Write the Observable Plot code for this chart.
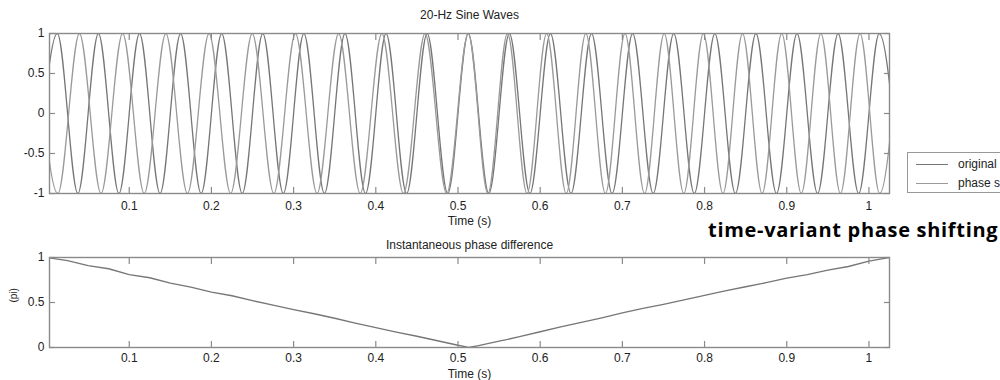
<!DOCTYPE html>
<html><head><meta charset="utf-8">
<script src="https://cdn.jsdelivr.net/npm/d3@7"></script>
<script src="https://cdn.jsdelivr.net/npm/@observablehq/plot@0.6"></script>
<style>
body{margin:0;background:#fff;}
#wrap{position:relative;width:1000px;height:380px;overflow:hidden;font-family:"Liberation Sans",Arial,sans-serif;background:#fff;}
#top,#bottom{position:absolute;left:0;}
#top{top:0;}
#bottom{top:228px;}
#legend{position:absolute;left:907px;top:152px;width:120px;height:39px;border:1px solid #999;background:#fff;font-size:12px;color:#222;}
#legend .row{position:absolute;left:0;height:14px;}
#legend .sw{position:absolute;left:8px;top:7px;width:32px;height:0;border-top:1px solid #666;}
#legend .lb{position:absolute;left:50px;top:0;line-height:14px;white-space:nowrap;}
#note{position:absolute;left:708px;top:220px;font-family:"Open Sans",sans-serif;font-weight:700;font-size:20px;letter-spacing:0.7px;line-height:20px;color:#000;white-space:nowrap;}
</style>
</head><body>
<div id="wrap"><div id="top"></div><div id="bottom"></div><div id="legend"></div><div id="note"></div></div>
<script>
// ---- texts
const sineTitle = "20-Hz Sine Waves";
const phaseTitle = "Instantaneous phase difference";
const xLabel = "Time (s)";
const phaseLabel = "(pi)";
const annotation = "time-variant phase shifting";
const seriesNames = ["original", "phase shifted"];
const seriesColors = ["#767676", "#9a9a9a"];

// ---- ticks
const xTicks = [0.1, 0.2, 0.3, 0.4, 0.5, 0.6, 0.7, 0.8, 0.9, 1];
const sineYTicks = [-1, -0.5, 0, 0.5, 1];
const phaseYTicks = [0, 0.5, 1];

// ---- original 20-Hz wave: extremum times (s) and values
const originalTimes = [-0.0125, 0.0125, 0.0375, 0.0625, 0.0875, 0.1125, 0.1375, 0.1625, 0.1875, 0.2125,
  0.2375, 0.2625, 0.2875, 0.3125, 0.3375, 0.3625, 0.3875, 0.4125, 0.4375, 0.4625, 0.4875, 0.5125,
  0.5375, 0.5625, 0.5875, 0.6125, 0.6375, 0.6625, 0.6875, 0.7125, 0.7375, 0.7625, 0.7875, 0.8125,
  0.8375, 0.8625, 0.8875, 0.9125, 0.9375, 0.9625, 0.9875, 1.0125, 1.0375];
const originalValues = [-1, 1, -1, 1, -1, 1, -1, 1, -1, 1, -1, 1, -1, 1, -1, 1, -1, 1, -1, 1, -1, 1,
  -1, 1, -1, 1, -1, 1, -1, 1, -1, 1, -1, 1, -1, 1, -1, 1, -1, 1, -1, 1, -1];

// ---- phase-shifted wave: extremum times (s) and values
const shiftedTimes = [-0.01314, 0.01314, 0.03942, 0.06570, 0.09198, 0.11826, 0.14455, 0.17083, 0.19711,
  0.22339, 0.24967, 0.27595, 0.30223, 0.32852, 0.35480, 0.38108, 0.40736, 0.43364, 0.45992, 0.48620,
  0.51250, 0.53636, 0.56019, 0.58402, 0.60786, 0.63169, 0.65552, 0.67936, 0.70319, 0.72702, 0.75086,
  0.77469, 0.79852, 0.82235, 0.84619, 0.87002, 0.89385, 0.91769, 0.94152, 0.96535, 0.98918, 1.01302, 1.03685];
const shiftedValues = [1, -1, 1, -1, 1, -1, 1, -1, 1, -1, 1, -1, 1, -1, 1, -1, 1, -1, 1, -1, 1,
  -1, 1, -1, 1, -1, 1, -1, 1, -1, 1, -1, 1, -1, 1, -1, 1, -1, 1, -1, 1, -1, 1];

// ---- instantaneous phase difference (units of pi)
const phaseTimes = [0, 0.025, 0.05, 0.075, 0.1, 0.125, 0.15, 0.175, 0.2, 0.225, 0.25, 0.275, 0.3, 0.325,
  0.35, 0.375, 0.4, 0.425, 0.45, 0.475, 0.5, 0.513, 0.525, 0.55, 0.575, 0.6, 0.625, 0.65, 0.675, 0.7,
  0.725, 0.75, 0.775, 0.8, 0.825, 0.85, 0.875, 0.9, 0.925, 0.95, 0.975, 1.0, 1.025];
const phaseValues = [1.0, 0.965, 0.91, 0.875, 0.81, 0.775, 0.715, 0.67, 0.615, 0.575, 0.52, 0.47, 0.42, 0.375,
  0.325, 0.27, 0.22, 0.17, 0.125, 0.075, 0.025, 0.0, 0.02, 0.07, 0.12, 0.175, 0.23, 0.28, 0.33, 0.385,
  0.435, 0.48, 0.53, 0.58, 0.63, 0.675, 0.72, 0.77, 0.81, 0.86, 0.9, 0.96, 1.0];

const xDomain = [0.003, 1.025];

const origData = originalTimes.map((t, i) => ({t, v: originalValues[i]}));
const shiftData = shiftedTimes.map((t, i) => ({t, v: shiftedValues[i]}));
const phaseData = phaseTimes.map((t, i) => ({t, v: phaseValues[i]}));

const fmt = d => String(d);
const frameColor = "#8a8a8a";
const textColor = "#222";
const fontFam = '"Liberation Sans", Arial, sans-serif';

function tickMarks(yTicks) {
  const common = {label: null, tickFormat: () => "", stroke: frameColor, strokeWidth: 1.2};
  return [
    Plot.axisX(xTicks, {anchor: "bottom", tickSize: -6, ...common}),
    Plot.axisX(xTicks, {anchor: "top", tickSize: -6, ...common}),
    Plot.axisY(yTicks, {anchor: "left", tickSize: -6, ...common}),
    Plot.axisY(yTicks, {anchor: "right", tickSize: -6, ...common})
  ];
}

const topPlot = Plot.plot({
  width: 1000, height: 228,
  marginLeft: 49, marginRight: 111, marginTop: 33, marginBottom: 35,
  x: {domain: xDomain},
  y: {domain: [-1, 1]},
  style: {fontFamily: fontFam, fontSize: "12px", color: textColor, background: "transparent", overflow: "visible"},
  marks: [
    Plot.line(origData, {x: "t", y: "v", curve: "monotone-x", stroke: seriesColors[0], strokeWidth: 1.3, clip: true}),
    Plot.line(shiftData, {x: "t", y: "v", curve: "monotone-x", stroke: seriesColors[1], strokeWidth: 1.3, clip: true}),
    Plot.frame({stroke: frameColor, strokeWidth: 1.4}),
    ...tickMarks(sineYTicks),
    Plot.axisX(xTicks, {anchor: "bottom", tickSize: 0, tickPadding: 8, tickFormat: fmt, label: null, fill: textColor}),
    Plot.axisY(sineYTicks, {anchor: "left", tickSize: 0, tickPadding: 5, tickFormat: fmt, label: null, fill: textColor}),
    Plot.text([sineTitle], {frameAnchor: "top", lineAnchor: "middle", dy: -18, fontSize: 12, fill: textColor}),
    Plot.text([xLabel], {frameAnchor: "bottom", lineAnchor: "middle", dy: 28, fontSize: 12, fill: textColor})
  ]
});
document.getElementById("top").appendChild(topPlot);

const bottomPlot = Plot.plot({
  width: 1000, height: 152,
  marginLeft: 49, marginRight: 111, marginTop: 29, marginBottom: 33,
  x: {domain: xDomain},
  y: {domain: [0, 1]},
  style: {fontFamily: fontFam, fontSize: "12px", color: textColor, background: "transparent", overflow: "visible"},
  marks: [
    Plot.line(phaseData, {x: "t", y: "v", stroke: seriesColors[0], strokeWidth: 1.3, clip: true}),
    Plot.frame({stroke: frameColor, strokeWidth: 1.4}),
    ...tickMarks(phaseYTicks),
    Plot.axisX(xTicks, {anchor: "bottom", tickSize: 0, tickPadding: 6, tickFormat: fmt, label: null, fill: textColor}),
    Plot.axisY(phaseYTicks, {anchor: "left", tickSize: 0, tickPadding: 5, tickFormat: fmt, label: null, fill: textColor}),
    Plot.text([phaseTitle], {frameAnchor: "top", lineAnchor: "middle", dy: -12, fontSize: 12, fill: textColor}),
    Plot.text([xLabel], {frameAnchor: "bottom", lineAnchor: "middle", dy: 27, fontSize: 12, fill: textColor}),
    Plot.text([phaseLabel], {frameAnchor: "left", dx: -36, rotate: -90, fontSize: 10, fill: textColor})
  ]
});
document.getElementById("bottom").appendChild(bottomPlot);

// legend
const legend = document.getElementById("legend");
seriesNames.forEach((name, i) => {
  const row = document.createElement("div");
  row.className = "row";
  row.style.top = (4 + i * 19) + "px";
  row.style.width = "120px";
  const sw = document.createElement("div");
  sw.className = "sw";
  sw.style.borderTopColor = seriesColors[i];
  const lb = document.createElement("div");
  lb.className = "lb";
  lb.textContent = name;
  row.appendChild(sw); row.appendChild(lb);
  legend.appendChild(row);
});

document.getElementById("note").textContent = annotation;
</script>
</body></html>
